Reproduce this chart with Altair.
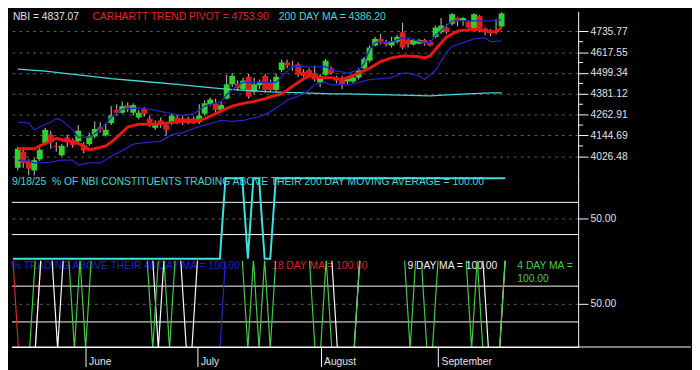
import altair as alt
import pandas as pd

# ---------------- data ----------------
day = list(range(89))

open_ = [3962, 4053, 4000, 3946, 4010, 4102, 4150, 4086, 4032, 4134,
         4112, 4112, 4091, 4096, 4139, 4193, 4145, 4215, 4290, 4274,
         4317, 4274, 4247, 4295, 4241, 4188, 4231, 4204, 4220, 4247,
         4241, 4241, 4241, 4220, 4268, 4322, 4327, 4290, 4354, 4435,
         4440, 4408, 4478, 4392, 4430, 4483, 4446, 4403, 4516, 4559,
         4542, 4548, 4505, 4516, 4499, 4446, 4489, 4526, 4473, 4467,
         4451, 4451, 4473, 4526, 4569, 4655, 4693, 4677, 4655, 4677,
         4730, 4687, 4661, 4666, 4687, 4677, 4704, 4730, 4757, 4779,
         4811, 4795, 4790, 4752, 4822, 4752, 4741, 4741, 4763]
close = [4070, 3989, 3957, 4005, 4064, 4177, 4107, 4080, 4086, 4107,
         4091, 4172, 4059, 4139, 4182, 4177, 4177, 4258, 4274, 4311,
         4295, 4317, 4274, 4268, 4204, 4215, 4204, 4177, 4258, 4220,
         4215, 4225, 4220, 4258, 4327, 4349, 4290, 4317, 4435, 4483,
         4413, 4456, 4365, 4435, 4451, 4403, 4403, 4478, 4559, 4542,
         4537, 4489, 4483, 4489, 4462, 4483, 4569, 4499, 4456, 4435,
         4467, 4473, 4516, 4580, 4644, 4693, 4671, 4661, 4677, 4704,
         4644, 4661, 4687, 4687, 4666, 4655, 4757, 4768, 4730, 4833,
         4795, 4811, 4757, 4833, 4752, 4730, 4725, 4730, 4837.07]
high = [4080, 4080, 4010, 4016, 4075, 4188, 4172, 4107, 4096, 4150,
        4129, 4204, 4107, 4161, 4225, 4220, 4215, 4311, 4322, 4338,
        4333, 4327, 4290, 4306, 4258, 4231, 4247, 4220, 4268, 4263,
        4258, 4252, 4252, 4322, 4344, 4360, 4354, 4338, 4489, 4499,
        4456, 4473, 4494, 4473, 4462, 4494, 4462, 4494, 4575, 4575,
        4569, 4559, 4521, 4526, 4542, 4494, 4580, 4537, 4483, 4483,
        4483, 4489, 4526, 4591, 4655, 4704, 4720, 4687, 4704, 4714,
        4784, 4693, 4693, 4693, 4693, 4687, 4768, 4811, 4779, 4838,
        4816, 4816, 4795, 4838, 4827, 4757, 4747, 4806, 4843]
low = [3946, 3962, 3919, 3919, 4000, 4091, 4070, 4053, 4026, 4080,
       4075, 4102, 4043, 4086, 4129, 4161, 4139, 4204, 4258, 4268,
       4279, 4258, 4236, 4252, 4193, 4177, 4188, 4145, 4204, 4209,
       4204, 4209, 4209, 4209, 4258, 4311, 4268, 4274, 4349, 4419,
       4397, 4397, 4354, 4381, 4408, 4387, 4392, 4387, 4505, 4526,
       4510, 4478, 4473, 4473, 4451, 4419, 4483, 4489, 4440, 4408,
       4435, 4440, 4462, 4516, 4559, 4650, 4661, 4650, 4644, 4666,
       4634, 4644, 4655, 4661, 4655, 4650, 4698, 4720, 4720, 4768,
       4763, 4768, 4752, 4747, 4730, 4714, 4709, 4720, 4757]

pivot_day = [0, 3, 4, 6, 7, 9, 10, 12, 13, 14, 16, 17, 18, 20, 22, 24, 25, 27, 30, 32,
             34, 36, 37, 39, 41, 43, 45, 46, 48, 50, 52, 53, 55, 57, 59, 60, 62, 64, 66, 68,
             70, 71, 73, 74, 75, 76, 78, 80, 81, 83, 85, 86, 87, 88]
pivot_val = [4070, 4070, 4086, 4112, 4129, 4112, 4112, 4086, 4064, 4070, 4086, 4107, 4134, 4193, 4209, 4209, 4209, 4215, 4225, 4220,
             4241, 4268, 4284, 4311, 4327, 4338, 4354, 4365, 4381, 4424, 4467, 4483, 4473, 4473, 4462, 4473, 4499, 4526, 4564, 4585,
             4596, 4596, 4591, 4585, 4596, 4634, 4704, 4736, 4741, 4747, 4741, 4730, 4735, 4753.9]

upper_day = [0, 2, 3, 4, 6, 7, 8, 10, 11, 13, 15, 17, 19, 22, 24, 27, 30, 32, 34, 37,
             38, 40, 41, 44, 47, 49, 50, 52, 53, 56, 57, 59, 60, 62, 63, 64, 65, 66, 67, 68,
             70, 71, 72, 74, 75, 76, 77, 78, 79, 81, 83, 86, 88]
upper_val = [4220, 4215, 4177, 4193, 4220, 4241, 4231, 4177, 4134, 4134, 4177, 4247, 4295, 4301, 4295, 4274, 4258, 4268, 4311, 4338,
             4376, 4430, 4446, 4446, 4446, 4510, 4537, 4537, 4532, 4537, 4516, 4505, 4499, 4516, 4553, 4634, 4671, 4677, 4671, 4677,
             4698, 4698, 4687, 4671, 4671, 4714, 4741, 4768, 4795, 4795, 4795, 4795, 4800]

lower_day = [0, 2, 3, 6, 8, 10, 11, 13, 15, 17, 19, 21, 24, 26, 28, 30, 32, 34, 37, 39,
             41, 44, 46, 48, 49, 52, 53, 54, 56, 57, 59, 60, 62, 64, 66, 68, 70, 71, 73, 74,
             76, 78, 79, 81, 83, 85, 86, 88]
lower_val = [4005, 4000, 3989, 3994, 4005, 4005, 3978, 3989, 3989, 4027, 4059, 4096, 4107, 4112, 4150, 4161, 4185, 4204, 4231, 4225,
             4231, 4252, 4280, 4320, 4345, 4381, 4403, 4435, 4446, 4430, 4435, 4430, 4446, 4462, 4467, 4473, 4499, 4499, 4483, 4462,
             4516, 4618, 4650, 4671, 4693, 4698, 4677, 4682]

ma200_day = [0, 5, 11, 17, 23, 29, 34, 38, 40, 46, 52, 57, 60, 66, 75, 79, 82, 86, 88]
ma200_val = [4521, 4510, 4489, 4467, 4451, 4435, 4419, 4408, 4403, 4392, 4387, 4381, 4381, 4376, 4370, 4376, 4381, 4386, 4386.2]

pct200 = [0, 0, 0, 0, 0, 0, 0, 0, 0, 0,
          0, 0, 0, 0, 0, 0, 0, 0, 0, 0,
          0, 0, 0, 0, 0, 0, 0, 0, 0, 0,
          0, 0, 0, 0, 0, 0, 0, 0, 100, 100,
          100, 100, 0, 100, 100, 0, 0, 100, 100, 100,
          100, 100, 100, 100, 100, 100, 100, 100, 100, 100,
          100, 100, 100, 100, 100, 100, 100, 100, 100, 100,
          100, 100, 100, 100, 100, 100, 100, 100, 100, 100,
          100, 100, 100, 100, 100, 100, 100, 100, 100]
pct4 = [0, 0, 0, 0, 100, 100, 100, 100, 100, 100,
        100, 0, 100, 0, 100, 100, 100, 100, 100, 100,
        100, 100, 100, 100, 100, 0, 100, 100, 0, 100,
        100, 100, 100, 100, 100, 100, 100, 100, 100, 100,
        100, 100, 0, 100, 0, 100, 0, 100, 100, 100,
        100, 100, 100, 100, 0, 0, 100, 0, 0, 0,
        0, 0, 100, 100, 100, 100, 100, 100, 100, 100,
        100, 0, 100, 100, 0, 0, 100, 100, 100, 100,
        100, 100, 0, 100, 0, 0, 0, 0, 100]
pct9 = [0, 0, 0, 0, 0, 100, 100, 100, 0, 100,
        100, 100, 100, 100, 100, 100, 100, 100, 100, 100,
        100, 100, 100, 100, 100, 100, 0, 100, 100, 100,
        100, 0, 0, 100, 100, 100, 100, 100, 100, 100,
        100, 100, 100, 100, 100, 100, 100, 100, 100, 100,
        100, 100, 100, 100, 100, 100, 100, 100, 0, 0,
        0, 0, 100, 100, 100, 100, 100, 100, 100, 100,
        100, 100, 100, 100, 100, 100, 100, 100, 100, 100,
        100, 100, 100, 100, 100, 0, 0, 0, 100]
pct18 = [100, 0, 0, 0, 0, 100, 100, 100, 100, 100,
         100, 100, 100, 100, 100, 100, 100, 100, 100, 100,
         100, 100, 100, 100, 100, 100, 100, 100, 100, 100,
         100, 100, 100, 100, 100, 100, 100, 100, 100, 100,
         100, 100, 100, 100, 100, 100, 100, 100, 100, 100,
         100, 100, 100, 100, 100, 100, 100, 100, 100, 100,
         100, 100, 100, 100, 100, 100, 100, 100, 100, 100,
         100, 100, 100, 100, 100, 100, 100, 100, 100, 100,
         100, 100, 100, 100, 100, 100, 100, 100, 100]
pct40 = [0, 0, 0, 0, 0, 0, 0, 0, 0, 0,
         0, 0, 0, 0, 0, 0, 0, 0, 0, 0,
         0, 0, 0, 0, 0, 0, 0, 0, 0, 0,
         0, 0, 0, 0, 0, 0, 0, 0, 100, 100,
         100, 100, 100, 100, 100, 100, 100, 100, 100, 100,
         100, 100, 100, 100, 100, 100, 100, 100, 100, 100,
         100, 100, 100, 100, 100, 100, 100, 100, 100, 100,
         100, 100, 100, 100, 100, 100, 100, 100, 100, 100,
         100, 100, 100, 100, 100, 100, 100, 100, 100]

price_ticks = [4026.48, 4144.69, 4262.91, 4381.12, 4499.34, 4617.55, 4735.77]
minor_ticks = [4085.59, 4203.80, 4322.02, 4440.23, 4558.45, 4676.66]
pct_ticks = [50]
band_lines = [70, 30]
month_day = [13, 33, 55, 76]
month_name = ["June", "July", "August", "September"]

# ---------------- styling ----------------
FONT = "Liberation Sans"
FS = 10.5
W = 577
H_TOP, H_MID, H_BOT = 168, 86, 88
GREEN = "#2ed12e"
RED = "#d82020"
BLUE = "#2424c8"
CYAN = "#3fdada"
LABEL = "#e2e2e2"

xscale = alt.Scale(domain=[-0.17, 101.04], nice=False, zero=False)
xnone = lambda f: alt.X(f, type="quantitative", scale=xscale, axis=None)

def right_axis(vals, grid=True):
    return alt.Axis(orient="right", values=vals, format=".2f", tickSize=10, tickColor="white",
                    tickWidth=1, domainColor="white", domainWidth=1, labelColor=LABEL,
                    labelFont=FONT, labelFontSize=FS, labelPadding=2, grid=grid,
                    gridColor="#5c5c5c", gridDash=[3, 4], gridWidth=1, labelFlush=False)

# ---------------- top panel ----------------
ohlc = pd.DataFrame({"day": day, "open": open_, "close": close, "high": high, "low": low})
ohlc["dir"] = ["up" if c >= o else "down" for o, c in zip(open_, close)]

yscale_top = alt.Scale(domain=[3913.7, 4848.6], nice=False, zero=False)
top_axis = right_axis(price_ticks)
ytop = lambda f: alt.Y(f, type="quantitative", scale=yscale_top, axis=top_axis, title=None)

wicks = alt.Chart(ohlc).mark_rule(color="#c8c8c8", strokeWidth=1).encode(
    x=xnone("day"), y=ytop("low"), y2="high")
bodies = alt.Chart(ohlc).mark_bar(size=6, strokeWidth=0).encode(
    x=xnone("day"), y=ytop("open"), y2="close",
    color=alt.Color("dir:N", scale=alt.Scale(domain=["up", "down"], range=[GREEN, RED]), legend=None))

def top_line(days, vals, color, width):
    df = pd.DataFrame({"day": days, "v": vals})
    return alt.Chart(df).mark_line(color=color, strokeWidth=width).encode(x=xnone("day"), y=ytop("v"))

ma_line = top_line(ma200_day, ma200_val, CYAN, 1.3)
low_line = top_line(lower_day, lower_val, BLUE, 1.3)
up_line = top_line(upper_day, upper_val, BLUE, 1.3)
piv_line = top_line(pivot_day, pivot_val, "#ee1414", 3)

minor = alt.Chart(pd.DataFrame({"v": minor_ticks})).mark_rule(color="white").encode(
    y=ytop("v"), x=alt.value(W), x2=alt.value(W + 5))

def label(text, x, y, color, baseline="middle"):
    return alt.Chart(pd.DataFrame({"t": [text]})).mark_text(
        align="left", baseline=baseline, font=FONT, fontSize=FS, color=color).encode(
        text="t:N", x=alt.value(x), y=alt.value(y))

top = alt.layer(
    wicks, bodies, ma_line, low_line, up_line, piv_line, minor,
    label("NBI = 4837.07", 1, 6, LABEL),
    label("CARHARTT TREND PIVOT = 4753.90", 82, 6, "#e82222"),
    label("200 DAY MA = 4386.20", 272, 6, CYAN),
).properties(width=W, height=H_TOP)

# ---------------- middle panel ----------------
yscale_mid = alt.Scale(domain=[-2.38, 102.38], nice=False, zero=False)
mid_axis = right_axis(pct_ticks)
ymid = lambda f: alt.Y(f, type="quantitative", scale=yscale_mid, axis=mid_axis, title=None)

mid_bands = alt.Chart(pd.DataFrame({"v": band_lines})).mark_rule(color="white", strokeWidth=1).encode(y=ymid("v"))
mid_line = alt.Chart(pd.DataFrame({"day": day, "v": pct200})).mark_line(
    color="#40e0e0", strokeWidth=2).encode(x=xnone("day"), y=ymid("v"))

mid = alt.layer(
    mid_bands,
    label("9/18/25\u00a0 % OF NBI CONSTITUENTS TRADING ABOVE THEIR 200 DAY MOVING AVERAGE = 100.00", 0, 6, "#40d8d8"),
    mid_line,
).properties(width=W, height=H_MID)

# ---------------- bottom panel ----------------
expr = "''"
for d, n in zip(reversed(month_day), reversed(month_name)):
    expr = f"datum.value == {d} ? '{n}' : ({expr})"

month_axis = alt.Axis(orient="bottom", values=month_day, labelExpr=expr, tickSize=20,
                      tickColor="white", tickWidth=1, domainColor="white", domainWidth=1,
                      labelColor=LABEL, labelFont=FONT, labelFontSize=FS, labelAlign="left",
                      labelBaseline="middle", labelPadding=-5, labelOffset=3, labelFlush=False,
                      labelOverlap=False, grid=False)
xbot = alt.X("day", type="quantitative", scale=xscale, axis=month_axis, title=None)

yscale_bot = alt.Scale(domain=[2, 98.5], nice=False, zero=False)
bot_axis = right_axis(pct_ticks)
ybot = lambda f: alt.Y(f, type="quantitative", scale=yscale_bot, axis=bot_axis, title=None)

bot_bands = alt.Chart(pd.DataFrame({"v": band_lines})).mark_rule(color="white", strokeWidth=1).encode(y=ybot("v"))

def pct_line(vals, color):
    return alt.Chart(pd.DataFrame({"day": day, "v": vals})).mark_line(
        color=color, strokeWidth=1.2, clip=True).encode(x=xbot, y=ybot("v"))

base_rule = alt.Chart(pd.DataFrame({"v": [0]})).mark_rule(color="white", strokeWidth=1).encode(
    x=alt.value(0), x2=alt.value(692), y=alt.value(H_BOT))

bot = alt.layer(
    bot_bands,
    label("% TRADING ABOVE THEIR 40 DAY MA = 100.00", 0, 6, "#2020cc"),
    label("18 DAY MA = 100.00", 265, 6, "#dd2222"),
    label("9 DAY MA = 100.00", 403, 6, "#f0f0f0"),
    label("4 DAY MA =", 515, 6, "#44cc44"),
    label("100.00", 515, 19, "#44cc44"),
    pct_line(pct40, "#2424d8"),
    pct_line(pct18, "#dd2222"),
    pct_line(pct9, "#ffffff"),
    pct_line(pct4, "#44cc44"),
    base_rule,
).properties(width=W, height=H_BOT)

chart = alt.vconcat(top, mid, bot, spacing=0, bounds="flush").resolve_scale(
    x="independent", y="independent").properties(background="#000000", padding=0).configure_view(strokeWidth=0)

chart.save("out.html", embed_options={"renderer": "svg", "actions": False})
